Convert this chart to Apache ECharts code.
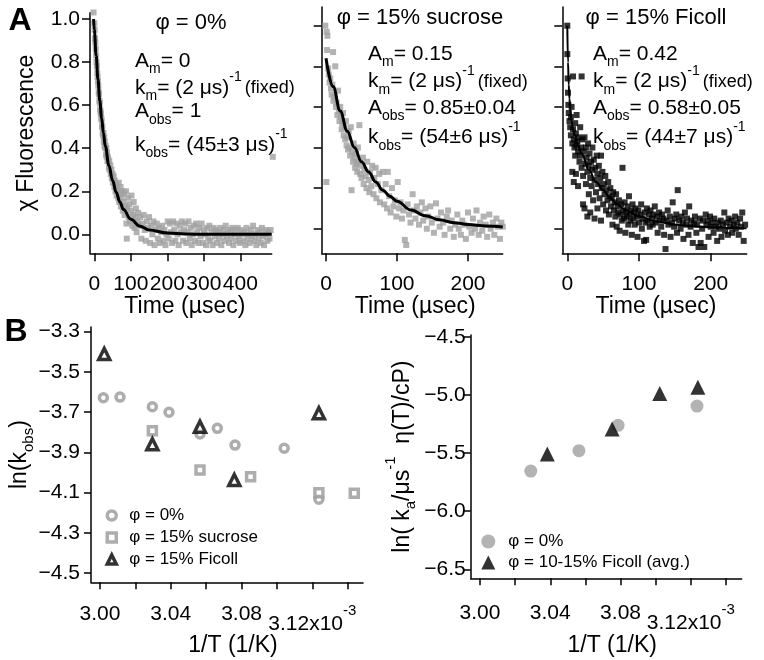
<!DOCTYPE html>
<html>
<head>
<meta charset="utf-8">
<script src="https://cdn.jsdelivr.net/npm/echarts@6/dist/echarts.min.js"></script>
<style>
html,body{margin:0;padding:0;background:#fff;}
#c{width:764px;height:660px;}
</style>
</head>
<body>
<div id="c"></div>
<script>
// ---------------- DATA ----------------
// Panel A (φ = 0%) : time (µs), χ fluorescence
const a1Points = [[-2,1.03],[0,0.98],[1,0.95],[2,0.91],[3,0.89],[4,0.86],[5,0.83],[6,0.80],[7,0.78],[8,0.75],[9,0.73],[10,0.71],[11,0.69],[12,0.66],[13,0.65],[14,0.62],[15,0.61],[16,0.58],[17,0.57],[18,0.56],[19,0.54],[20,0.53],[21,0.50],[22,0.50],[23,0.47],[24,0.46],[25,0.47],[26,0.43],[27,0.45],[28,0.41],[29,0.43],[30,0.40],[31,0.41],[32,0.37],[33,0.40],[34,0.36],[35,0.38],[36,0.34],[37,0.36],[38,0.35],[40,0.31],[41,0.34],[42,0.30],[44,0.32],[45,0.28],[47,0.30],[48,0.26],[50,0.28],[51,0.24],[53,0.27],[55,0.22],[56,0.25],[58,0.20],[60,0.23],[61,0.18],[63,0.21],[65,0.17],[67,0.24],[68,0.15],[70,0.19],[72,0.22],[73,0.13],[75,0.17],[77,0.20],[78,0.11],[80,0.15],[82,0.19],[83,0.09],[85,0.13],[87,0.20],[88,0.05],[89,-0.02],[90,0.12],[92,0.17],[94,0.08],[96,0.14],[98,0.06],[100,0.11],[102,0.18],[104,0.04],[106,0.09],[108,0.15],[110,0.03],[112,0.08],[114,0.12],[116,0.01],[118,0.06],[120,0.10],[123,0.04],[126,0.08],[129,-0.02],[132,0.05],[135,0.09],[138,0.02],[141,-0.03],[144,0.06],[147,0.03],[150,0.08],[153,-0.04],[156,0.04],[159,0.0],[162,0.06],[165,-0.05],[168,0.02],[171,0.05],[174,-0.02],[177,0.03],[180,-0.04],[183,0.01],[186,0.04],[189,-0.03],[192,0.02],[195,-0.05],[198,0.0],[201,0.06],[204,-0.02],[207,0.05],[210,0.01],[213,-0.04],[216,0.06],[219,0.02],[222,-0.03],[225,0.05],[228,0.0],[231,-0.05],[234,0.04],[237,0.01],[240,0.06],[243,-0.03],[246,0.02],[249,0.05],[252,-0.04],[255,0.01],[258,0.06],[261,-0.02],[264,0.03],[267,-0.05],[270,0.0],[273,0.04],[276,-0.03],[279,0.05],[282,0.01],[285,-0.04],[288,0.03],[291,-0.01],[294,0.05],[297,-0.04],[300,0.02],[303,0.0],[306,-0.05],[309,0.03],[312,-0.02],[315,0.04],[318,-0.03],[321,0.01],[324,-0.05],[327,0.03],[330,-0.01],[333,0.02],[336,-0.04],[339,0.01],[342,-0.02],[345,0.03],[348,-0.05],[351,0.0],[354,0.02],[357,-0.03],[360,0.04],[363,-0.01],[366,0.01],[369,-0.04],[372,0.02],[375,-0.02],[378,0.03],[381,-0.05],[384,0.0],[387,0.02],[390,-0.03],[393,0.03],[396,-0.01],[399,-0.04],[402,0.02],[405,0.0],[408,-0.03],[411,0.01],[414,-0.05],[417,0.03],[420,-0.02],[423,0.0],[426,-0.04],[429,0.02],[432,-0.01],[435,0.04],[438,-0.03],[441,0.0],[444,-0.05],[447,0.02],[450,-0.02],[453,0.01],[456,-0.04],[459,0.03],[462,-0.01],[465,-0.05],[468,0.0],[471,0.02],[474,-0.03],[477,0.01],[480,-0.02],[483,0.02],[489,0.36]];
const a1Fit = [[-2,1.0],[0,0.95],[5,0.83],[10,0.72],[15,0.62],[20,0.54],[25,0.47],[30,0.41],[40,0.32],[50,0.25],[60,0.195],[70,0.15],[80,0.115],[100,0.07],[125,0.038],[150,0.02],[200,0.006],[250,0.002],[300,0.0],[486,0.0]];

// Panel A (φ = 15% sucrose)
const a2Points = [[-1,1.0],[1,0.97],[2,0.95],[1.5,0.88],[10,0.87],[0.5,0.23],[3,0.79],[4,0.76],[5,0.72],[6,0.74],[7,0.69],[8,0.66],[9,0.71],[10.5,0.63],[12,0.65],[13,0.80],[14,0.60],[15,0.62],[16,0.56],[17,0.68],[18,0.58],[19,0.53],[20,0.60],[21,0.55],[22,0.49],[23,0.52],[24,0.57],[25,0.46],[26,0.50],[27,0.44],[28,0.53],[29,0.41],[30,0.45],[31,0.39],[32,0.48],[33,0.40],[34,0.36],[35,0.50],[36,0.19],[37,0.38],[38,0.33],[39,0.42],[40,0.35],[41,0.30],[42,0.37],[43,0.32],[44,0.28],[45,0.40],[46,0.33],[47,0.51],[48,0.27],[49,0.31],[50,0.25],[52,0.35],[53,0.22],[54,0.29],[56,0.26],[57,0.20],[58,0.33],[60,0.24],[61,0.18],[62,0.28],[64,0.21],[65,0.31],[67,0.17],[68,0.25],[70,0.30],[71,0.15],[73,0.22],[75,0.27],[76,0.13],[78,0.19],[80,0.28],[82,0.12],[84,0.22],[86,0.10],[87,0.28],[89,0.16],[91,0.08],[93,0.20],[95,0.11],[97,0.14],[99,0.06],[101,0.23],[103,0.10],[105,0.13],[107,0.05],[109,0.09],[111,-0.055],[113,-0.08],[115,0.12],[117,0.07],[119,0.03],[122,0.17],[124,0.09],[126,0.05],[128,0.11],[131,0.02],[133,0.08],[135,0.13],[137,0.04],[140,0.10],[142,0.0],[144,0.06],[147,0.11],[149,0.03],[152,-0.02],[155,0.125],[157,0.05],[160,0.01],[162,0.08],[165,0.03],[167,-0.03],[170,0.06],[172,0.09],[175,0.0],[177,0.04],[180,-0.04],[182,0.02],[185,0.07],[187,0.0],[190,-0.03],[192,0.04],[195,0.02],[197,-0.05],[200,0.08],[202,0.01],[205,-0.02],[207,0.05],[210,0.0],[212,0.09],[215,-0.03],[217,0.03],[220,-0.01],[222,0.06],[225,0.02],[227,-0.04],[230,0.07],[232,0.0],[235,0.03],[237,-0.03],[240,0.05],[242,0.01],[245,-0.05],[247,0.03],[249,0.01]];
const a2Fit = [[0,0.84],[10,0.70],[20,0.58],[30,0.48],[40,0.40],[50,0.33],[60,0.28],[70,0.23],[80,0.19],[90,0.16],[100,0.135],[120,0.092],[140,0.064],[160,0.044],[180,0.030],[200,0.021],[225,0.013],[249,0.008]];

// Panel A (φ = 15% Ficoll)
const a3Points = [[0,1.0],[0,0.86],[0.5,0.74],[1,0.67],[1.5,0.61],[2,0.57],[3,0.53],[4,0.50],[5,0.55],[5,0.46],[6,0.60],[7,0.42],[7,0.28],[8,0.75],[8,0.49],[9,0.44],[9,0.23],[10,0.40],[11,0.52],[11,0.36],[12,0.47],[12,0.27],[13,0.56],[13,0.41],[14,0.43],[15,0.38],[15,0.21],[16,0.45],[17,0.33],[18,0.50],[18,0.36],[19,0.40],[20,0.75],[20,0.30],[21,0.44],[22,0.26],[22,0.12],[23,0.38],[24,0.45],[24,0.10],[25,0.32],[26,0.40],[26,0.22],[27,0.35],[28,0.28],[28,0.06],[29,0.42],[30,0.31],[30,0.17],[31,0.37],[32,0.25],[32,0.08],[33,0.33],[34,0.21],[35,0.40],[35,0.29],[36,0.14],[37,0.34],[38,0.24],[38,0.05],[39,0.30],[40,0.18],[41,0.36],[42,0.27],[42,0.10],[43,0.22],[44,0.31],[45,0.15],[46,0.25],[47,0.36],[47,0.04],[48,0.20],[49,0.28],[50,0.12],[51,0.22],[52,0.17],[53,0.26],[54,0.09],[55,0.19],[56,0.14],[57,0.23],[58,0.07],[59,0.16],[60,0.20],[61,0.11],[62,0.15],[63,0.02],[64,0.18],[65,0.09],[66,0.13],[67,0.06],[68,0.17],[69,0.01],[70,0.11],[71,0.08],[72,0.14],[73,-0.01],[74,0.07],[75,0.12],[76,0.04],[77,0.30],[78,0.09],[79,0.05],[80,0.13],[81,-0.02],[82,0.08],[83,0.06],[84,0.11],[85,0.02],[86,0.16],[87,0.07],[88,0.04],[89,0.09],[90,-0.03],[91,0.12],[92,0.05],[93,0.08],[94,0.02],[95,0.10],[97,0.06],[98,-0.04],[99,0.09],[100,0.03],[102,0.07],[103,0.12],[104,0.0],[105,0.05],[107,-0.06],[108,0.08],[109,0.03],[110,-0.055],[111,0.10],[112,0.04],[114,0.07],[115,0.01],[116,0.09],[118,0.05],[119,0.02],[120,0.07],[122,0.11],[123,0.03],[125,0.06],[126,-0.02],[128,0.08],[129,0.04],[131,0.01],[132,0.07],[134,0.05],[135,-0.03],[137,-0.10],[138,0.04],[140,0.09],[141,0.02],[143,0.06],[144,-0.04],[146,0.03],[147,0.13],[149,0.01],[150,0.05],[152,0.07],[153,-0.02],[154,0.19],[156,0.04],[158,0.0],[159,0.06],[161,0.03],[162,-0.05],[164,0.08],[166,0.02],[167,0.05],[169,-0.03],[170,0.11],[172,0.01],[173,0.04],[175,-0.07],[177,0.03],[178,0.06],[180,-0.02],[181,0.02],[183,-0.09],[185,0.05],[186,-0.07],[188,0.0],[189,0.04],[191,-0.09],[193,0.07],[194,0.02],[196,0.04],[197,-0.04],[199,0.06],[200,0.01],[202,0.03],[204,-0.02],[205,0.05],[207,0.01],[209,-0.06],[210,0.03],[212,0.0],[214,0.04],[215,-0.04],[217,0.02],[219,0.08],[220,-0.01],[222,0.03],[224,-0.03],[225,0.05],[227,0.01],[229,0.04],[230,-0.02],[232,0.02],[234,0.06],[235,0.0],[237,0.03],[239,-0.03],[241,0.05],[242,0.01],[244,0.08],[246,-0.06],[248,0.02]];
const a3Fit = [[0,1.0],[1,0.82],[2,0.71],[3,0.64],[4,0.59],[6,0.53],[8,0.49],[10,0.465],[15,0.41],[20,0.37],[30,0.29],[40,0.23],[50,0.19],[60,0.15],[70,0.12],[80,0.095],[100,0.06],[125,0.035],[150,0.02],[175,0.012],[200,0.007],[225,0.004],[250,0.002]];

// Panel B left: 1/T (x10^-3 1/K) vs ln(kobs)
const b1Circle = [[3.0019,-3.629],[3.0113,-3.626],[3.0296,-3.674],[3.0390,-3.701],[3.0565,-3.809],[3.0663,-3.781],[3.0763,-3.864],[3.1041,-3.880],[3.1237,-4.133]];
const b1Square = [[3.0296,-3.793],[3.0565,-3.988],[3.0851,-4.021],[3.1237,-4.100],[3.1437,-4.103]];
const b1Tri = [[3.0024,-3.412],[3.0296,-3.860],[3.0565,-3.773],[3.0759,-4.037],[3.1237,-3.706]];
// Panel B right
const b2Circle = [[3.0289,-5.655],[3.0563,-5.480],[3.0786,-5.262],[3.1235,-5.096]];
const b2Tri = [[3.0383,-5.509],[3.0752,-5.294],[3.1023,-4.987],[3.1240,-4.935]];

// Series names
const b1Names = ['φ = 0%', 'φ = 15% sucrose', 'φ = 15% Ficoll'];
const b2Names = ['φ = 0% ', 'φ = 10-15% Ficoll (avg.)'];

// Ticks & labels
const aYTicks = [0, 0.2, 0.4, 0.6, 0.8, 1.0];
const aYLabels = ['0.0', '0.2', '0.4', '0.6', '0.8', '1.0'];
const a1XTicks = [0, 100, 200, 300, 400];
const a1XLabels = ['0', '100', '200', '300', '400'];
const a23XTicks = [0, 100, 200];
const a23XLabels = ['0', '100', '200'];
const bXTicks = [3.00, 3.02, 3.04, 3.06, 3.08, 3.10, 3.12, 3.14];
const bXLabelVals = [3.00, 3.04, 3.08, 3.12];
const bXLabels = ['3.00', '3.04', '3.08', '3.12x10'];
const bXExp = '-3';
const b1YTicks = [-4.5, -4.3, -4.1, -3.9, -3.7, -3.5, -3.3];
const b1YLabels = ['\u22124.5', '\u22124.3', '\u22124.1', '\u22123.9', '\u22123.7', '\u22123.5', '\u22123.3'];
const b2YTicks = [-6.5, -6.0, -5.5, -5.0, -4.5];
const b2YLabels = ['\u22126.5', '\u22126.0', '\u22125.5', '\u22125.0', '\u22124.5'];

// Annotations
const a1Title = 'φ = 0%';
const a2Title = 'φ = 15% sucrose';
const a3Title = 'φ = 15% Ficoll';
const a1Notes = ['{n|A}{s|m}{n|= 0}', '{N|k}{S|m}{N|= (2 μs)}{U|-1}{f|(fixed)}', '{n|A}{s|obs}{n|= 1}', '{N|k}{S|obs}{N|= (45±3 μs)}{U|-1}'];
const a2Notes = ['{n|A}{s|m}{n|= 0.15}', '{N|k}{S|m}{N|= (2 μs)}{U|-1}{f|(fixed)}', '{n|A}{s|obs}{n|= 0.85±0.04}', '{N|k}{S|obs}{N|= (54±6 μs)}{U|-1}'];
const a3Notes = ['{n|A}{s|m}{n|= 0.42}', '{N|k}{S|m}{N|= (2 μs)}{U|-1}{f|(fixed)}', '{n|A}{s|obs}{n|= 0.58±0.05}', '{N|k}{S|obs}{N|= (44±7 μs)}{U|-1}'];

// ---------------- CHART ----------------
const FONT = "'Liberation Sans', Arial, Helvetica, sans-serif";
const GRAY = '#a0a0a0';

function rs(size, padTop, padLeft) {
  return {fontSize: size, fontFamily: FONT, color: '#000', verticalAlign: 'top', padding: [padTop, 0, 0, padLeft || 0]};
}
const richAnn = {n: rs(21, 0), s: rs(14, 12), N: rs(21, 7), S: rs(14, 19), U: rs(14, 0), f: rs(18, 8.5, 3)};

function fmtFrom(vals, labels) {
  return function (v) {
    for (let i = 0; i < vals.length; i++) if (Math.abs(v - vals[i]) < 1e-7) return labels[i];
    return '';
  };
}

function axis(o) {
  return {
    type: 'value', gridIndex: o.g, min: o.min, max: o.max,
    name: o.name || '', nameLocation: 'middle', nameGap: o.nameGap || 0, nameMoveOverlap: false,
    nameTextStyle: Object.assign({fontSize: 23, fontFamily: FONT, color: '#000'}, o.nameStyle || {}),
    axisLine: {show: true, onZero: false, lineStyle: {color: '#000', width: 1.5}},
    axisTick: {show: true, inside: false, length: o.tickLen || 7, customValues: o.ticks, lineStyle: {color: '#000', width: 1.5}},
    axisLabel: o.labels ? {
      show: true, customValues: o.labelVals, formatter: o.formatter || fmtFrom(o.labelVals, o.labels),
      margin: o.margin, fontSize: 21, fontFamily: FONT, color: '#000', rich: o.rich
    } : {show: false},
    splitLine: {show: false}, minorTick: {show: false}, minorSplitLine: {show: false}
  };
}

const bXFormatter = function (v) {
  for (let i = 0; i < bXLabelVals.length; i++) {
    if (Math.abs(v - bXLabelVals[i]) < 1e-7) {
      if (i === bXLabelVals.length - 1) return '{m|' + bXLabels[i] + '}{e|' + bXExp + '}';
      return bXLabels[i];
    }
  }
  return '';
};
const bXRich = {m: rs(21, 10), e: rs(15, 0)};

const grids = [
  {left: 90, top: 12.7, width: 181.7, height: 240.6},
  {left: 321.7, top: 7, width: 181, height: 246.3},
  {left: 562.3, top: 7, width: 184.4, height: 246.3},
  {left: 91, top: 327, width: 272, height: 255.3},
  {left: 470.7, top: 335, width: 271, height: 243.3}
].map(g => Object.assign({containLabel: false, outerBoundsMode: 'none', show: false}, g));

const timeName = 'Time (µsec)';
const xAxes = [
  axis({g: 0, min: -11.8, max: 486, ticks: a1XTicks, labels: a1XLabels, labelVals: a1XTicks, margin: 20, tickLen: 8, name: timeName, nameGap: 42, nameStyle: {padding: [0, 0, 0, 8]}}),
  axis({g: 1, min: -6.06, max: 248.9, ticks: a23XTicks, labels: a23XLabels, labelVals: a23XTicks, margin: 20, tickLen: 8, name: timeName, nameGap: 42, nameStyle: {padding: [0, 0, 0, 6]}}),
  axis({g: 2, min: -6.97, max: 250.2, ticks: a23XTicks, labels: a23XLabels, labelVals: a23XTicks, margin: 20, tickLen: 8, name: timeName, nameGap: 42, nameStyle: {padding: [0, 0, 0, 3]}}),
  axis({g: 3, min: 2.99491, max: 3.14863, ticks: bXTicks, labels: bXLabels, labelVals: bXLabelVals, formatter: bXFormatter, rich: bXRich, margin: 21, name: '1/T (1/K)', nameGap: 52, nameStyle: {padding: [0, 0, 0, 12]}}),
  axis({g: 4, min: 2.99471, max: 3.14895, ticks: bXTicks, labels: bXLabels, labelVals: bXLabelVals, formatter: bXFormatter, rich: bXRich, margin: 24, name: '1/T (1/K)', nameGap: 56, nameStyle: {padding: [0, 0, 0, 12]}})
];
const yAxes = [
  axis({g: 0, min: -0.088, max: 1.029, ticks: aYTicks, labels: aYLabels, labelVals: aYTicks, margin: 10, tickLen: 8, name: 'χ Fluorescence', nameGap: 52}),
  axis({g: 1, min: -0.121, max: 1.092, ticks: aYTicks, tickLen: 8}),
  axis({g: 2, min: -0.121, max: 1.092, ticks: aYTicks, tickLen: 8}),
  axis({g: 3, min: -4.545, max: -3.278, ticks: b1YTicks, labels: b1YLabels, labelVals: b1YTicks, margin: 11,
    name: '{n|ln(k}{s|obs}{n|)}', nameGap: 55,
    nameStyle: {rich: {n: rs(23, 0), s: rs(15, 13)}}}),
  axis({g: 4, min: -6.577, max: -4.485, ticks: b2YTicks, labels: b2YLabels, labelVals: b2YTicks, margin: 5,
    name: '{N|ln( k}{S|a}{N|/μs}{U|-1}{N|  η(T)/cP)}', nameGap: 52,
    nameStyle: {rich: {N: rs(23, 7), S: rs(15, 20), U: rs(15, 0)}}})
];

function scatter(name, xi, data, symbol, size, style, z) {
  return {type: 'scatter', name: name, xAxisIndex: xi, yAxisIndex: xi, data: data, symbol: symbol, symbolSize: size,
    itemStyle: style, clip: false, silent: true, z: z || 2, animation: false};
}
function fitLine(xi, data, width) {
  return {type: 'line', name: 'fit' + xi, xAxisIndex: xi, yAxisIndex: xi, data: data, showSymbol: false, symbol: 'none',
    smooth: 0.4, smoothMonotone: 'x', lineStyle: {color: '#000', width: width}, silent: true, z: 5, animation: false, clip: false};
}

const openGray = {color: '#fff', borderColor: '#999', borderWidth: 3.5};
const openBlack = {color: '#fff', borderColor: '#000', borderWidth: 3.5};
const series = [
  scatter('A0', 0, a1Points, 'rect', 6, {color: GRAY}),
  fitLine(0, a1Fit, 3),
  scatter('A15s', 1, a2Points, 'rect', 6, {color: GRAY}),
  fitLine(1, a2Fit, 3),
  scatter('A15f', 2, a3Points, 'rect', 6, {color: '#000'}),
  fitLine(2, a3Fit, 2),
  scatter(b1Names[0], 3, b1Circle, 'circle', 8, openGray),
  scatter(b1Names[1], 3, b1Square, 'rect', 8, openGray),
  scatter(b1Names[2], 3, b1Tri, 'triangle', 11, openBlack, 3),
  scatter(b2Names[0], 4, b2Circle, 'circle', 13, {color: GRAY}),
  scatter(b2Names[1], 4, b2Tri, 'triangle', 15, {color: '#000'}, 3)
];

function gtext(x, y, text, extra) {
  return {type: 'text', x: x, y: y, silent: true,
    style: Object.assign({text: text, fill: '#000', fontSize: 21, fontFamily: FONT, textAlign: 'left', align: 'left', textVerticalAlign: 'top', verticalAlign: 'top'}, extra || {})};
}
function notes(x, tops, arr) {
  return arr.map((t, i) => gtext(x, tops[i], t, {rich: richAnn}));
}
const a1Tops = [50.5, 70.5, 101, 127.5];
const a23Tops = [43.5, 64.2, 97.5, 120];
const centerMid = {textAlign: 'center', align: 'center', textVerticalAlign: 'middle', verticalAlign: 'middle'};

const graphic = [
  gtext(20, 21, 'A', Object.assign({fontSize: 32, fontWeight: 'bold'}, centerMid)),
  gtext(16, 332, 'B', Object.assign({fontSize: 32, fontWeight: 'bold'}, centerMid)),
  gtext(191, 23, a1Title, Object.assign({fontSize: 22}, centerMid)),
  gtext(420, 18.3, a2Title, Object.assign({fontSize: 22}, centerMid)),
  gtext(656, 18.3, a3Title, Object.assign({fontSize: 22}, centerMid))
].concat(notes(135, a1Tops, a1Notes), notes(368, a23Tops, a2Notes), notes(593, a23Tops, a3Notes));

const legendText = {fontSize: 17, fontFamily: FONT, color: '#000', padding: [0, 0, 0, 8]};
const option = {
  backgroundColor: '#fff',
  animation: false,
  grid: grids,
  xAxis: xAxes,
  yAxis: yAxes,
  legend: [
    {data: [
        {name: b1Names[0], icon: 'circle', itemStyle: openGray},
        {name: b1Names[1], icon: 'rect', itemStyle: openGray},
        {name: b1Names[2], icon: 'triangle', itemStyle: openBlack}
      ],
      orient: 'vertical', left: 105.5, top: 507, itemWidth: 9, itemHeight: 9, itemGap: 5, padding: 0,
      selectedMode: false, textStyle: legendText},
    {data: [
        {name: b2Names[0], icon: 'circle', itemStyle: {color: GRAY, borderWidth: 0}},
        {name: b2Names[1], icon: 'triangle', itemStyle: {color: '#000', borderWidth: 0}}
      ],
      orient: 'vertical', left: 481.3, top: 533, itemWidth: 14, itemHeight: 14, itemGap: 4, padding: 0,
      selectedMode: false, textStyle: legendText}
  ],
  series: series,
  graphic: graphic
};

const chart = echarts.init(document.getElementById('c'), null, {renderer: 'canvas'});
chart.setOption(option);
</script>
</body>
</html>
